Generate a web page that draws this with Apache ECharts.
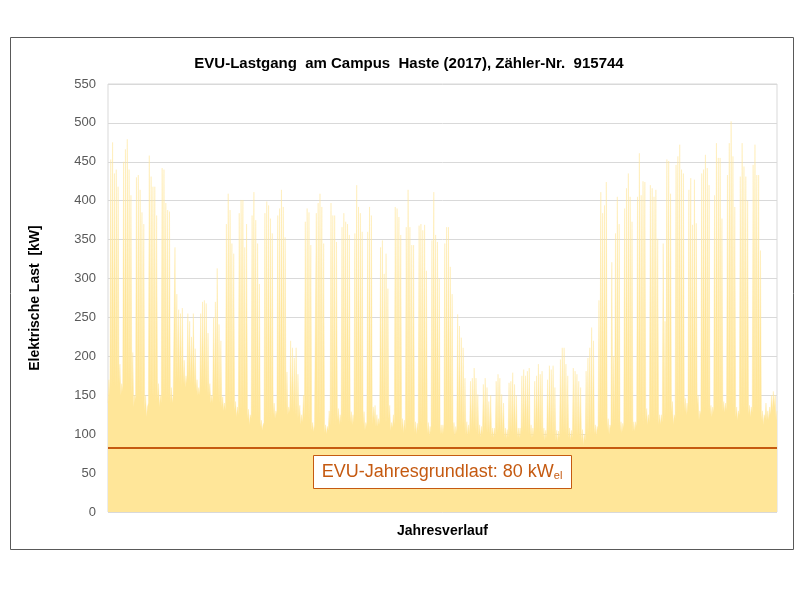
<!DOCTYPE html>
<html><head><meta charset="utf-8">
<script src="https://cdn.jsdelivr.net/npm/echarts@6/dist/echarts.min.js"></script>
<style>html,body{margin:0;padding:0;background:#fff}#c{width:800px;height:600px}</style>
</head><body><div id="c"></div>
<script>
const chartTitle = 'EVU-Lastgang  am Campus  Haste (2017), Zähler-Nr.  915744';
const yAxisTitle = 'Elektrische Last  [kW]';
const xAxisTitle = 'Jahresverlauf';
const yMin = 0, yMax = 550, yStep = 50;
const grundlast = 83;
const grundlastLabel = 'EVU-Jahresgrundlast: 80 kW';
const grundlastSub = 'el';

// daily maximum load [kW], rows = weeks Sun..Sat (2017 starts on Sunday)
const dayMax = [
 170,453,475,435,440,418,190,
 165,450,466,479,440,407,205,
 150,430,433,414,385,370,150,
 135,458,431,418,418,381,165,
 150,442,440,397,388,386,160,
 150,340,280,260,255,262,195,
 175,255,245,225,255,210,170,
 160,255,270,272,268,230,165,
 150,250,270,313,241,220,148,
 140,370,409,388,345,332,142,
 135,384,401,401,340,370,132,
 125,381,411,375,345,293,118,
 112,384,399,394,377,358,140,
 130,381,390,414,392,353,180,
 135,220,211,198,211,177,137,
 125,150,373,390,385,343,115,
 112,384,397,409,392,345,112,
 110,130,397,381,381,347,133,
 125,366,384,373,370,356,129,
 125,358,420,392,384,360,129,
 115,360,392,381,135,137,125,
 120,340,349,306,332,287,137,
 115,125,392,390,379,356,120,
 118,366,414,366,343,343,116,
 114,368,370,362,369,310,115,
 110,349,411,356,347,300,112,
 112,345,366,366,315,280,115,
 110,254,239,224,211,172,116,
 112,168,172,185,172,151,112,
 110,164,172,160,142,150,108,
 108,168,177,172,151,140,108,
 106,166,168,179,164,150,108,
 108,175,183,175,181,185,112,
 108,168,175,190,177,181,108,
 105,170,188,183,188,160,105,
 104,196,211,211,190,175,108,
 105,185,181,177,168,160,106,
 100,181,198,211,237,220,112,
 110,272,411,384,394,424,120,
 112,321,200,358,405,370,116,
 114,390,416,435,405,373,116,
 116,405,461,407,425,424,133,
 125,420,416,405,414,351,125,
 125,345,245,453,451,409,142,
 125,446,457,472,440,435,146,
 140,414,429,369,427,371,150,
 130,435,440,459,442,420,137,
 135,407,474,455,455,377,142,
 140,433,474,502,457,392,135,
 130,431,474,444,431,400,137,
 135,446,472,433,433,336,130,
 125,140,130,135,150,155,150,
 130
];
// daily minimum (night) load [kW]
const dayMin = [
 140,150,160,165,160,160,165,
 150,155,165,160,165,160,150,
 135,145,150,150,145,140,130,
 122,140,150,148,145,140,145,
 135,140,150,150,145,145,140,
 140,150,165,170,165,160,165,
 160,165,170,165,165,160,155,
 150,150,160,160,155,150,150,
 140,140,150,150,145,140,135,
 130,130,140,140,138,135,130,
 122,125,130,132,130,128,120,
 112,120,125,125,122,120,110,
 105,115,122,120,120,118,125,
 120,125,130,130,128,125,130,
 125,128,130,128,125,120,122,
 112,115,120,122,120,118,105,
 103,110,118,120,118,115,102,
 100,105,112,115,112,110,118,
 112,115,120,120,118,115,115,
 112,115,120,118,118,115,112,
 105,110,115,115,112,118,110,
 110,112,118,118,115,115,120,
 104,108,112,118,118,112,105,
 102,105,112,115,112,110,102,
 100,105,112,112,110,110,100,
 98,102,108,110,108,105,100,
 100,102,108,110,108,105,102,
 98,102,108,110,108,105,100,
 98,100,105,108,105,102,98,
 96,100,105,105,102,100,96,
 95,98,102,105,102,100,95,
 94,96,100,102,100,98,95,
 95,98,102,105,102,100,98,
 95,98,102,105,102,100,96,
 92,95,100,100,98,96,92,
 90,95,100,102,100,98,95,
 92,95,100,100,98,95,90,
 86,92,98,100,100,98,100,
 98,105,112,115,115,112,105,
 100,108,110,112,112,110,104,
 102,108,112,115,112,110,104,
 104,110,115,118,115,112,118,
 112,115,120,120,118,115,112,
 112,115,118,122,122,120,128,
 112,120,125,128,125,122,130,
 125,128,130,132,130,128,138,
 118,125,130,132,130,128,125,
 122,128,132,135,132,130,130,
 128,130,135,138,135,130,122,
 118,125,130,132,130,128,125,
 122,128,132,135,132,128,118,
 112,120,118,118,125,130,135,
 118
];

const cats = [], load = [];
for (let i = 0; i < dayMax.length; i++) {
  cats.push('T' + (i + 1) + 'n'); load.push(dayMin[i]);
  cats.push('T' + (i + 1) + 't'); load.push(dayMax[i]);
}

const chart = echarts.init(document.getElementById('c'), null, {renderer: 'canvas'});
const font = '"Liberation Sans", Arial, sans-serif';
chart.setOption({
  backgroundColor: '#fff',
  animation: false,
  textStyle: {fontFamily: font},
  grid: {left: 108, right: 23, top: 84, bottom: 88, show: true, borderColor: '#d9d9d9', borderWidth: 1},
  xAxis: {
    type: 'category', data: cats, boundaryGap: false,
    axisLine: {show: false}, axisTick: {show: false}, axisLabel: {show: false}, splitLine: {show: false},
    name: xAxisTitle, nameLocation: 'middle', nameGap: 12,
    nameTextStyle: {fontSize: 14, fontWeight: 'bold', color: '#000', fontFamily: font}
  },
  yAxis: {
    type: 'value', min: yMin, max: yMax, interval: yStep,
    axisLine: {show: false}, axisTick: {show: false},
    axisLabel: {color: '#595959', fontSize: 13, margin: 12, fontFamily: font},
    splitLine: {lineStyle: {color: '#d9d9d9', width: 1}},
    name: yAxisTitle, nameLocation: 'middle', nameGap: 66,
    nameTextStyle: {fontSize: 14, fontWeight: 'bold', color: '#000', fontFamily: font}
  },
  series: [{
    type: 'line', data: load, symbol: 'none',
    lineStyle: {width: 0.4, color: '#FFE699'},
    areaStyle: {color: '#FFE699', opacity: 1},
    markLine: {
      silent: true, symbol: 'none', label: {show: false},
      lineStyle: {color: '#C55A11', width: 2, type: 'solid'},
      data: [{yAxis: grundlast}]
    }
  }],
  graphic: [
    {type: 'rect', shape: {x: 10.5, y: 37.5, width: 783, height: 512}, style: {fill: 'none', stroke: '#595959', lineWidth: 1}, z: 100},
    {type: 'text', x: 409, y: 64, style: {text: chartTitle, font: 'bold 15px ' + font, fill: '#000', textAlign: 'center', textVerticalAlign: 'middle'}, z: 100},
    {type: 'rect', shape: {x: 313.5, y: 455.5, width: 258, height: 33}, style: {fill: '#fff', stroke: '#C55A11', lineWidth: 1}, z: 100},
    {type: 'text', x: 442, y: 472, z: 101, style: {
      text: '{a|' + grundlastLabel + '}{b|' + grundlastSub + '}',
      textAlign: 'center', textVerticalAlign: 'middle',
      rich: {
        a: {fontSize: 18, fill: '#C55A11', fontFamily: font},
        b: {fontSize: 11, fill: '#C55A11', fontFamily: font, verticalAlign: 'bottom', padding: [8, 0, 0, 0]}
      }
    }}
  ]
});
</script>
</body></html>
